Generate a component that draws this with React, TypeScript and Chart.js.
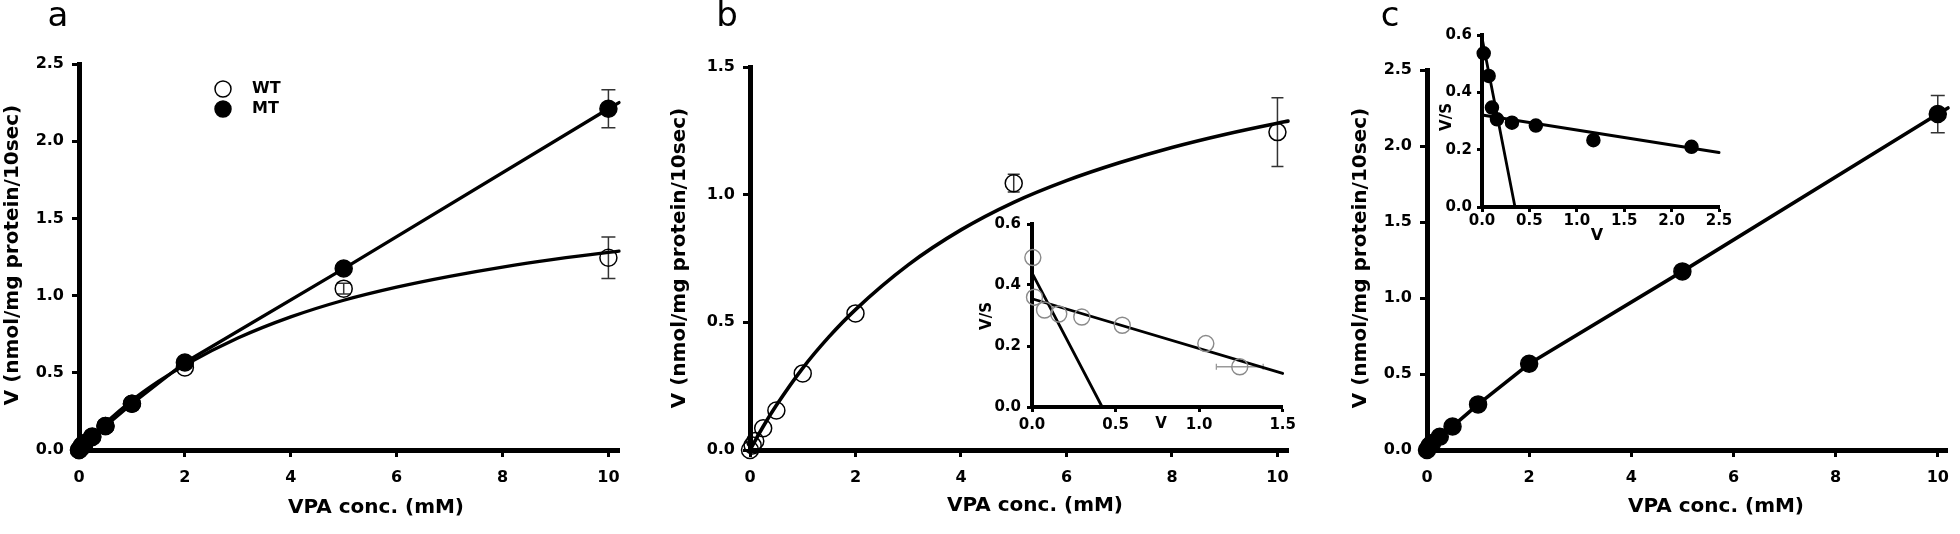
import React, { useEffect, useRef } from "react";
import { Chart, registerables } from "chart.js";

Chart.register(...registerables);

const FONT_FAMILY = "'DejaVu Sans', 'Liberation Sans', sans-serif";

// ---------------- data ----------------
// VPA concentration (mM) of the measured points
const concMM = [0, 0.05, 0.1, 0.25, 0.5, 1, 2, 5, 10];
// wild type velocity and SEM
const wtV = [0, 0.018, 0.035, 0.085, 0.155, 0.3, 0.535, 1.045, 1.245];
const wtErr = [0, 0, 0, 0, 0, 0, 0, 0.035, 0.135];
// mutant velocity and SEM
const mtV = [0, 0.027, 0.046, 0.087, 0.155, 0.3, 0.567, 1.175, 2.21];
const mtErr = [0, 0, 0, 0, 0, 0, 0, 0.03, 0.123];

// fitted WT curve
const wtFitConc = [0, 0.25, 0.5, 1, 1.5, 2, 3, 4, 5, 6, 7, 8, 9, 10, 10.2];
const wtFitV = [0, 0.092, 0.175, 0.321, 0.444, 0.55, 0.725, 0.862, 0.97, 1.055, 1.125, 1.185, 1.236, 1.28, 1.288];
// MT line
const mtFitConc = [0, 0.05, 0.1, 0.25, 0.5, 1, 2, 5, 10, 10.2];
const mtFitV = [0, 0.027, 0.046, 0.087, 0.155, 0.3, 0.567, 1.175, 2.21, 2.25];

// Eadie-Hofstee inset (b, WT)
const wtEhV = [0.005, 0.015, 0.075, 0.16, 0.298, 0.54, 1.04, 1.243];
const wtEhVS = [0.49, 0.36, 0.318, 0.305, 0.295, 0.268, 0.208, 0.132];
const wtEhVErr = [0, 0, 0, 0, 0, 0, 0, 0.14];
const wtEhSteepV = [0, 0.42];
const wtEhSteepVS = [0.44, 0];
const wtEhShallowV = [0, 1.5];
const wtEhShallowVS = [0.355, 0.11];

// Eadie-Hofstee inset (c, MT)
const mtEhV = [0.018, 0.07, 0.105, 0.158, 0.316, 0.568, 1.175, 2.21];
const mtEhVS = [0.536, 0.457, 0.347, 0.306, 0.294, 0.284, 0.233, 0.21];
const mtEhSteepV = [0, 0.348];
const mtEhSteepVS = [0.59, 0];
const mtEhShallowV = [0, 2.5];
const mtEhShallowVS = [0.321, 0.19];

// ticks
const mainXTicks = [0, 2, 4, 6, 8, 10];
const mainXTickLabels = ["0", "2", "4", "6", "8", "10"];
const yTicks25 = [0, 0.5, 1, 1.5, 2, 2.5];
const yTickLabels25 = ["0.0", "0.5", "1.0", "1.5", "2.0", "2.5"];
const yTicks15 = [0, 0.5, 1, 1.5];
const yTickLabels15 = ["0.0", "0.5", "1.0", "1.5"];
const insetYTicks = [0, 0.2, 0.4, 0.6];
const insetYTickLabels = ["0.0", "0.2", "0.4", "0.6"];
const insetBXTicks = [0, 0.5, 1, 1.5];
const insetBXTickLabels = ["0.0", "0.5", "1.0", "1.5"];
const insetCXTicks = [0, 0.5, 1, 1.5, 2, 2.5];
const insetCXTickLabels = ["0.0", "0.5", "1.0", "1.5", "2.0", "2.5"];

// texts
const yTitle = "V (nmol/mg protein/10sec)";
const xTitle = "VPA conc. (mM)";
const legendNames = ["WT", "MT"];

const pts = (xs: number[], ys: number[]) => xs.map((x, i) => ({ x, y: ys[i] }));

// ---------------- plugins ----------------
const errorBarPlugin = {
  id: "errorBars",
  beforeDatasetsDraw(chart: any) {
    const ctx = chart.ctx;
    const xs = chart.scales.x;
    const ys = chart.scales.y;
    chart.data.datasets.forEach((ds: any) => {
      if (!ds.yErr && !ds.xErr) return;
      ctx.save();
      ctx.strokeStyle = ds.errColor || "#333";
      ctx.lineWidth = ds.errWidth || 1.5;
      const cap = ds.errCap || 7;
      ds.data.forEach((p: any, j: number) => {
        const px = xs.getPixelForValue(p.x);
        const py = ys.getPixelForValue(p.y);
        const ey = ds.yErr ? ds.yErr[j] : 0;
        if (ey > 0) {
          const y1 = ys.getPixelForValue(p.y + ey);
          const y2 = ys.getPixelForValue(p.y - ey);
          ctx.beginPath();
          ctx.moveTo(px, y1);
          ctx.lineTo(px, y2);
          ctx.moveTo(px - cap, y1);
          ctx.lineTo(px + cap, y1);
          ctx.moveTo(px - cap, y2);
          ctx.lineTo(px + cap, y2);
          ctx.stroke();
        }
        const ex = ds.xErr ? ds.xErr[j] : 0;
        if (ex > 0) {
          const x1 = xs.getPixelForValue(p.x - ex);
          const x2 = xs.getPixelForValue(p.x + ex);
          ctx.beginPath();
          ctx.moveTo(x1, py);
          ctx.lineTo(x2, py);
          ctx.moveTo(x1, py - cap);
          ctx.lineTo(x1, py + cap);
          ctx.moveTo(x2, py - cap);
          ctx.lineTo(x2, py + cap);
          ctx.stroke();
        }
      });
      ctx.restore();
    });
  },
};

const textPlugin = {
  id: "panelText",
  afterDraw(chart: any, _args: any, opts: any) {
    const ctx = chart.ctx;
    const ox = opts.originX || 0;
    const oy = opts.originY || 0;
    (opts.items || []).forEach((it: any) => {
      ctx.save();
      ctx.font = `${it.weight || "bold"} ${it.size}px ${FONT_FAMILY}`;
      ctx.fillStyle = "#000";
      ctx.textAlign = it.align || "center";
      ctx.textBaseline = it.baseline || "middle";
      ctx.translate(it.x - ox, it.y - oy);
      if (it.rotate) ctx.rotate(-Math.PI / 2);
      ctx.fillText(it.text, 0, 0);
      ctx.restore();
    });
    (opts.legend || []).forEach((l: any) => {
      ctx.save();
      ctx.beginPath();
      ctx.arc(l.x - ox, l.y - oy, l.r, 0, Math.PI * 2);
      ctx.fillStyle = l.filled ? "#000" : "#fff";
      ctx.fill();
      ctx.lineWidth = 1.5;
      ctx.strokeStyle = "#000";
      ctx.stroke();
      ctx.font = `bold ${l.size}px ${FONT_FAMILY}`;
      ctx.fillStyle = "#000";
      ctx.textAlign = "left";
      ctx.textBaseline = "middle";
      ctx.fillText(l.text, l.tx - ox, l.y - oy);
      ctx.restore();
    });
  },
};

// ---------------- panel specs ----------------
type Spec = {
  id: string;
  left: number;
  top: number;
  width: number;
  height: number;
  area: { left: number; top: number; right: number; bottom: number };
  xMax: number;
  yMax: number;
  xTicks: number[];
  xTickLabels: string[];
  yTicks: number[];
  yTickLabels: string[];
  axisWidth: number;
  tickLen: number;
  tickFont: number;
  xPad: number;
  yPad: number;
  datasets: any[];
  texts: any[];
  legend?: any[];
};

const lineDs = (xs: number[], ys: number[], w: number, order: number, smooth = false) => ({
  data: pts(xs, ys),
  showLine: true,
  borderColor: "#000",
  borderWidth: w,
  pointRadius: 0,
  fill: false,
  tension: smooth ? 0.4 : 0,
  cubicInterpolationMode: smooth ? "monotone" : "default",
  borderCapStyle: "round",
  borderJoinStyle: "round",
  clip: false,
  order,
});

const markerDs = (
  xs: number[],
  ys: number[],
  filled: boolean,
  r: number,
  order: number,
  extra: any = {}
) => ({
  data: pts(xs, ys),
  showLine: false,
  pointRadius: r,
  pointStyle: "circle",
  pointBackgroundColor: filled ? "#000" : "rgba(255,255,255,0)",
  pointBorderColor: "#000",
  pointBorderWidth: 1.5,
  clip: false,
  order,
  ...extra,
});

const MAIN_TICK = 16;
const TITLE = 20;
const LETTER = 34;

const specs: Spec[] = [
  {
    id: "a",
    left: 0,
    top: 0,
    width: 650,
    height: 534,
    area: { left: 79, top: 64, right: 619, bottom: 450 },
    xMax: 10.2,
    yMax: 2.5,
    xTicks: mainXTicks,
    xTickLabels: mainXTickLabels,
    yTicks: yTicks25,
    yTickLabels: yTickLabels25,
    axisWidth: 5,
    tickLen: 7,
    tickFont: MAIN_TICK,
    xPad: 11,
    yPad: 8,
    datasets: [
      lineDs(mtFitConc, mtFitV, 3.3, 10),
      lineDs(wtFitConc, wtFitV, 3.3, 9, true),
      markerDs(concMM, wtV, false, 8.5, 2, { yErr: wtErr, errCap: 7 }),
      markerDs(concMM, mtV, true, 8.5, 1, { yErr: mtErr, errCap: 7 }),
    ],
    texts: [
      { text: "a", x: 58, y: 26, size: LETTER, weight: "normal", baseline: "alphabetic" },
      { text: yTitle, x: 13, y: 255, size: TITLE, rotate: true },
      { text: xTitle, x: 376, y: 508, size: TITLE },
    ],
    legend: [
      { text: legendNames[0], x: 223, y: 89, r: 8, filled: false, tx: 252, size: 16 },
      { text: legendNames[1], x: 223, y: 109, r: 8, filled: true, tx: 252, size: 16 },
    ],
  },
  {
    id: "b",
    left: 655,
    top: 0,
    width: 650,
    height: 534,
    area: { left: 750, top: 67, right: 1288, bottom: 450 },
    xMax: 10.2,
    yMax: 1.5,
    xTicks: mainXTicks,
    xTickLabels: mainXTickLabels,
    yTicks: yTicks15,
    yTickLabels: yTickLabels15,
    axisWidth: 5,
    tickLen: 7,
    tickFont: MAIN_TICK,
    xPad: 11,
    yPad: 8,
    datasets: [
      lineDs(wtFitConc, wtFitV, 3.6, 9, true),
      markerDs(concMM, wtV, false, 8.5, 2, { yErr: wtErr, errCap: 6 }),
    ],
    texts: [
      { text: "b", x: 727, y: 26, size: LETTER, weight: "normal", baseline: "alphabetic" },
      { text: yTitle, x: 680, y: 258, size: TITLE, rotate: true },
      { text: xTitle, x: 1035, y: 506, size: TITLE },
    ],
  },
  {
    id: "c",
    left: 1320,
    top: 0,
    width: 640,
    height: 534,
    area: { left: 1427, top: 70, right: 1955, bottom: 450 },
    xMax: 10.2,
    yMax: 2.5,
    xTicks: mainXTicks,
    xTickLabels: mainXTickLabels,
    yTicks: yTicks25,
    yTickLabels: yTickLabels25,
    axisWidth: 5,
    tickLen: 7,
    tickFont: MAIN_TICK,
    xPad: 11,
    yPad: 8,
    datasets: [
      lineDs(mtFitConc, mtFitV, 3.6, 10),
      markerDs(concMM, mtV, true, 8.5, 1, { yErr: mtErr, errCap: 7 }),
    ],
    texts: [
      { text: "c", x: 1390, y: 26, size: LETTER, weight: "normal", baseline: "alphabetic" },
      { text: yTitle, x: 1361, y: 258, size: TITLE, rotate: true },
      { text: xTitle, x: 1716, y: 507, size: TITLE },
    ],
  },
  {
    id: "bInset",
    left: 960,
    top: 190,
    width: 340,
    height: 250,
    area: { left: 1032, top: 224, right: 1286, bottom: 407 },
    xMax: 1.5,
    yMax: 0.6,
    xTicks: insetBXTicks,
    xTickLabels: insetBXTickLabels,
    yTicks: insetYTicks,
    yTickLabels: insetYTickLabels,
    axisWidth: 4,
    tickLen: 5,
    tickFont: 15,
    xPad: 4,
    yPad: 6,
    datasets: [
      lineDs(wtEhSteepV, wtEhSteepVS, 2.8, 10),
      lineDs(wtEhShallowV, wtEhShallowVS, 2.8, 9),
      markerDs(wtEhV, wtEhVS, false, 8, 1, {
        pointBorderColor: "#8a8a8a",
        pointBorderWidth: 1.4,
        xErr: wtEhVErr,
        errColor: "#999",
        errWidth: 1.3,
        errCap: 3,
      }),
    ],
    texts: [
      { text: "V/S", x: 987, y: 316, size: 15, rotate: true },
      { text: "V", x: 1161, y: 424, size: 15 },
    ],
  },
  {
    id: "cInset",
    left: 1420,
    top: 5,
    width: 320,
    height: 240,
    area: { left: 1482, top: 35, right: 1719, bottom: 207 },
    xMax: 2.5,
    yMax: 0.6,
    xTicks: insetCXTicks,
    xTickLabels: insetCXTickLabels,
    yTicks: insetYTicks,
    yTickLabels: insetYTickLabels,
    axisWidth: 4,
    tickLen: 5,
    tickFont: 15,
    xPad: 0,
    yPad: 5,
    datasets: [
      lineDs(mtEhSteepV, mtEhSteepVS, 2.8, 10),
      lineDs(mtEhShallowV, mtEhShallowVS, 3, 9),
      markerDs(mtEhV, mtEhVS, true, 6.5, 1),
    ],
    texts: [
      { text: "V/S", x: 1447, y: 117, size: 15, rotate: true },
      { text: "V", x: 1597, y: 236, size: 16 },
    ],
  },
];

function buildConfig(s: Spec): any {
  const padTop = s.area.top - s.top;
  const padRight = s.left + s.width - s.area.right;
  const yW = s.area.left - s.left;
  const xH = s.top + s.height - s.area.bottom;
  const common = (isX: boolean) => ({
    type: "linear",
    min: 0,
    max: isX ? s.xMax : s.yMax,
    grid: {
      display: true,
      drawOnChartArea: false,
      drawTicks: true,
      tickLength: s.tickLen,
      tickWidth: 3,
      tickColor: "#000",
      color: "#000",
      lineWidth: 1,
    },
    border: { display: true, width: s.axisWidth, color: "#000" },
    afterBuildTicks: (sc: any) => {
      sc.ticks = (isX ? s.xTicks : s.yTicks).map((v) => ({ value: v }));
    },
    ticks: {
      color: "#000",
      font: { family: FONT_FAMILY, size: s.tickFont, weight: "bold" },
      padding: isX ? s.xPad : s.yPad,
      autoSkip: false,
      maxRotation: 0,
      minRotation: 0,
      callback: (_v: any, i: number) => (isX ? s.xTickLabels : s.yTickLabels)[i],
    },
  });
  return {
    type: "scatter",
    data: { datasets: s.datasets },
    options: {
      responsive: false,
      maintainAspectRatio: false,
      animation: false,
      devicePixelRatio: 1,
      events: [],
      layout: { padding: { top: padTop, right: padRight, left: 0, bottom: 0 }, autoPadding: false },
      plugins: {
        legend: { display: false },
        tooltip: { enabled: false },
        panelText: { originX: s.left, originY: s.top, items: s.texts, legend: s.legend || [] },
      },
      scales: {
        x: {
          ...common(true),
          position: "bottom",
          afterFit: (sc: any) => {
            sc.height = xH;
          },
        },
        y: {
          ...common(false),
          position: "left",
          afterFit: (sc: any) => {
            sc.width = yW;
          },
        },
      },
    },
    plugins: [errorBarPlugin, textPlugin],
  };
}

export default function App() {
  const refs = useRef<(HTMLCanvasElement | null)[]>([]);
  useEffect(() => {
    const charts = specs.map((s, i) => new Chart(refs.current[i] as HTMLCanvasElement, buildConfig(s)));
    return () => charts.forEach((c) => c.destroy());
  }, []);
  return (
    <div
      style={{
        position: "absolute",
        left: 0,
        top: 0,
        width: 1960,
        height: 534,
        background: "#fff",
        overflow: "hidden",
      }}
    >
      {specs.map((s, i) => (
        <canvas
          key={s.id}
          ref={(el) => {
            refs.current[i] = el;
          }}
          width={s.width}
          height={s.height}
          style={{ position: "absolute", left: s.left, top: s.top, width: s.width, height: s.height }}
        />
      ))}
    </div>
  );
}
